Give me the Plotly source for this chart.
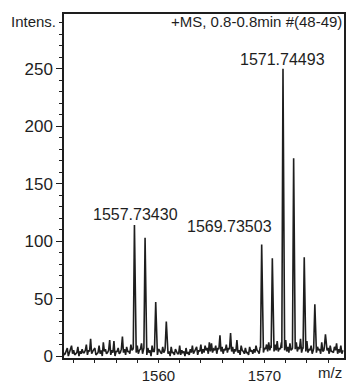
import numpy as np
import plotly.graph_objects as go

# ---- data ----
noise_start = 1551.0
noise_step = 0.2
# noise sampled on the 0.2 grid
noise_int = [
    4, 2, 7, 3, 9, 5, 2, 8, 4, 6,          # 1551.0-1552.8
    3, 10, 5, 15, 4, 7, 2, 9, 5, 12,       # 1553.0-1554.8
    6, 3, 14, 5, 13, 4, 7, 3, 17, 6,       # 1555.0-1556.8
    8, 4, 10, 6, 7, 9, 5, 11, 6, 8,        # 1557.0-1558.8
    7, 5, 9, 4, 10, 6, 3, 8, 5, 7,         # 1559.0-1560.8
    4, 8, 3, 6, 2, 9, 5, 4, 7, 3,          # 1561.0-1562.8
    6, 9, 4, 8, 5, 10, 6, 9, 7, 12,        # 1563.0-1564.8
    11, 6, 9, 7, 18, 8, 6, 10, 7, 20,      # 1565.0-1566.8
    8, 6, 14, 5, 9, 4, 7, 3, 8, 5,         # 1567.0-1568.8
    6, 9, 4, 8, 5, 7, 10, 12, 9, 8,        # 1569.0-1570.8
    10, 13, 7, 12, 9, 14, 8, 11, 6, 9,     # 1571.0-1572.8
    12, 8, 15, 7, 10, 13, 6, 9, 5, 11,     # 1573.0-1574.8
    8, 6, 12, 5, 14, 7, 9, 4, 8, 11,       # 1575.0-1576.8
    6, 9, 5,                               # 1577.0-1577.4
]
# noise at the half-step points (0.1 offsets)
noise_mid = [
    1, 4, 0, 5, 2, 1, 3, 0, 2, 3,
    5, 1, 4, 2, 6, 1, 3, 2, 0, 4,
    2, 5, 1, 3, 0, 4, 2, 6, 3, 1,
    4, 2, 5, 1, 3, 2, 6, 2, 4, 1,
    3, 0, 4, 2, 1, 5, 2, 3, 1, 2,
    0, 3, 1, 4, 2, 1, 3, 0, 2, 1,
    3, 2, 5, 1, 4, 2, 3, 5, 2, 4,
    3, 5, 2, 6, 4, 2, 5, 3, 6, 4,
    2, 4, 3, 1, 5, 2, 3, 1, 4, 2,
    3, 5, 2, 4, 3, 6, 4, 5, 3, 4,
    5, 4, 6, 3, 5, 4, 3, 5, 4, 6,
    4, 6, 3, 5, 4, 3, 5, 2, 4, 3,
    5, 2, 4, 3, 5, 2, 4, 3, 5, 2,
    3, 2,
]
peak_mz = [1557.734, 1558.737, 1559.74, 1560.74, 1569.735, 1570.74,
           1571.745, 1572.75, 1573.75, 1574.75, 1575.75]
peak_int = [114, 103, 47, 30, 97, 85, 250, 172, 86, 45, 19]

label_text = ["1557.73430", "1569.73503", "1571.74493"]
label_y = [123, 113, 258]
label_x = [1557.85, 1566.7, 1571.74]

title_text = "+MS, 0.8-0.8min #(48-49)"
y_ticks = [0, 50, 100, 150, 200, 250]
x_ticks = list(range(1552, 1578, 2))
x_labels = {1560: "1560", 1570: "1570"}

# ---- build profile trace ----
grid = np.round(noise_start + noise_step * np.arange(len(noise_int)), 3)
mid_grid = np.round(noise_start + noise_step / 2 + noise_step * np.arange(len(noise_mid)), 3)
pts = []
for m, v in list(zip(grid, noise_int)) + list(zip(mid_grid, noise_mid)):
    if min(abs(m - c) for c in peak_mz) > 0.13:
        pts.append((m, v))
hw = 0.11
for c, h in zip(peak_mz, peak_int):
    pts.append((c - hw, 7))
    pts.append((c, h))
    pts.append((c + hw, 7))
pts.sort()
xs = [p[0] for p in pts]
ys = [p[1] for p in pts]

FONT = "Liberation Sans, Arial, sans-serif"
INK = "#1e1e1e"

fig = go.Figure()
fig.add_trace(go.Scatter(x=xs, y=ys, mode="lines",
                         line=dict(color=INK, width=1.6), hoverinfo="skip"))

for x, y, t in zip(label_x, label_y, label_text):
    fig.add_annotation(x=x, y=y, text=t, showarrow=False, xanchor="center",
                       yanchor="middle", font=dict(family=FONT, size=16, color=INK))

fig.add_annotation(xref="paper", yref="paper", x=1, y=0.977, text=title_text,
                   showarrow=False, xanchor="right", yanchor="middle",
                   font=dict(family=FONT, size=15, color=INK))
fig.add_annotation(xref="paper", yref="paper", x=0, y=0.977, xshift=-6, text="Intens.",
                   showarrow=False, xanchor="right", yanchor="middle",
                   font=dict(family=FONT, size=15, color=INK))
fig.add_annotation(xref="paper", yref="paper", x=1, y=0, yshift=-14, text="m/z",
                   showarrow=False, xanchor="right", yanchor="middle",
                   font=dict(family=FONT, size=15, color=INK))

fig.update_layout(
    width=349, height=384,
    margin=dict(l=64, r=5, t=14, b=26),
    paper_bgcolor="white", plot_bgcolor="white",
    showlegend=False,
    font=dict(family=FONT, size=16, color=INK),
    xaxis=dict(range=[1551.09, 1577.5], showgrid=False, zeroline=False,
               automargin=False,
               showline=True, linecolor=INK, linewidth=1.5, mirror=True,
               ticks="outside", ticklen=3, tickcolor=INK, tickwidth=1,
               tickvals=x_ticks,
               ticktext=[x_labels.get(v, "") for v in x_ticks],
               tickfont=dict(family=FONT, size=15, color=INK)),
    yaxis=dict(range=[-1.7, 297.6], showgrid=False, zeroline=False,
               automargin=False,
               showline=True, linecolor=INK, linewidth=1.5, mirror=True,
               ticks="outside", ticklen=6, tickcolor=INK, tickwidth=1,
               tickvals=y_ticks,
               tickfont=dict(family=FONT, size=17, color=INK),
               minor=dict(dtick=10, ticks="outside", ticklen=3, tickcolor=INK)),
)

fig.write_html("out.html", config={"displayModeBar": False},
               post_script="document.body.style.margin='0';document.body.style.overflow='hidden';")
